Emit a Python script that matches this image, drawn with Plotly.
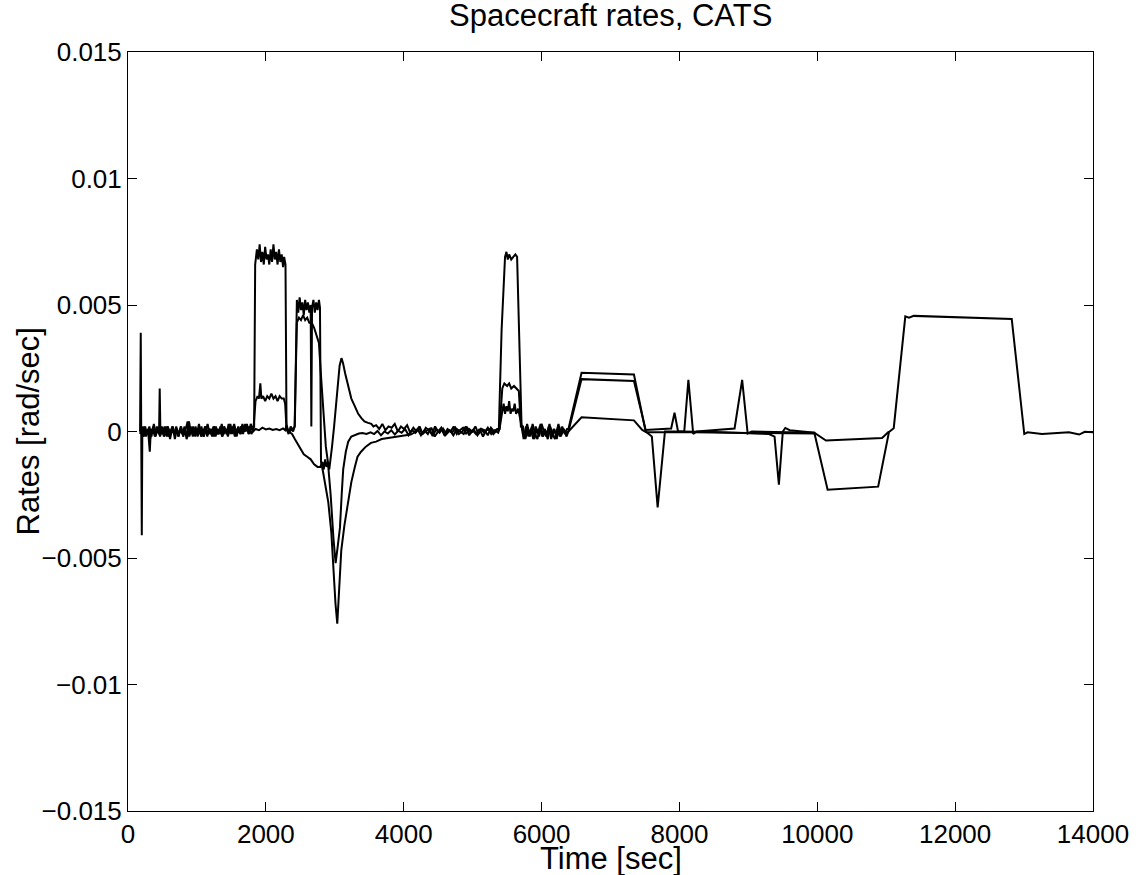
import plotly.graph_objects as go

# ---- data: (time [sec], rate [1e-4 rad/sec]) ----
roll_pts = [
    (175, 0), (185, 39), (192, 0), (200, -41), (208, 1), (230, -2), (250, 2), (270, -1), (300, 1), (320, -3),
    (340, 0), (370, 2), (400, -2), (430, 1), (460, -1), (490, 2), (520, -2), (550, 0), (580, 2), (610, -3),
    (640, 1), (670, -1), (700, 2), (730, -2), (760, 1), (790, -1), (820, 2), (850, -3), (880, 0), (910, 2),
    (940, -2), (970, 1), (1000, -1), (1030, 3), (1060, -2), (1090, 0), (1120, 2), (1150, -2), (1180, 1), (1210, -1),
    (1240, 2), (1270, -2), (1300, 1), (1330, -1), (1360, 3), (1390, -1), (1420, 1), (1450, -2), (1480, 2), (1510, 0),
    (1540, 3), (1570, -1), (1600, 2), (1630, -1), (1660, 3), (1690, 0), (1720, 2), (1750, -1), (1780, 3), (1810, 1),
    (1830, 2), (1845, 66), (1870, 72), (1890, 68), (1910, 74), (1930, 67), (1950, 71), (1970, 66), (1990, 73), (2010, 68),
    (2030, 70), (2050, 66), (2070, 72), (2090, 67), (2110, 74), (2130, 68), (2150, 71), (2170, 66), (2190, 72), (2210, 67),
    (2230, 70), (2250, 65), (2265, 69), (2285, 66), (2300, 1), (2330, -1), (2360, 2), (2395, 0),
    (2420, 2), (2450, 52), (2470, 47), (2490, 53), (2510, 48), (2530, 51), (2550, 46), (2570, 52), (2590, 48), (2610, 51),
    (2630, 47), (2650, 50), (2660, 2), (2670, 49), (2690, 52), (2710, 47), (2730, 51), (2750, 48), (2770, 52), (2785, 49),
    (2800, -12), (2830, -16), (2906, -28), (2950, -40), (2978, -55), (3010, -68), (3036, -76), (3060, -62), (3094, -47), (3140, -37),
    (3195, -28), (3240, -20), (3291, -14), (3330, -10), (3381, -8), (3450, -6), (3525, -4.5), (3600, -4), (3680, -3), (3770, -2.6),
    (3850, -2.4), (3930, -1.8), (4010, -1.6), (4101, -1.2),
    (4150, -0.5), (4200, 1), (4250, -1.5), (4300, 0.5), (4350, -1), (4400, 1.5), (4450, -2), (4500, 0), (4550, 1), (4600, -1.5),
    (4650, 0.5), (4700, -0.5), (4750, 1.5), (4800, -1), (4850, 0), (4900, 2), (4950, -1.5), (5000, 0.5), (5050, -1), (5100, 1),
    (5150, -2), (5200, 0.5), (5250, 1), (5300, -1), (5350, 0.5),
    (5380, 1), (5420, 40), (5470, 69), (5490, 71), (5510, 68), (5530, 70), (5560, 68), (5590, 69), (5620, 70), (5645, 69),
    (5710, 2), (5740, -3), (5775, 2), (5810, -2), (5845, 1), (5880, -3), (5915, 2), (5950, -1), (5985, 3), (6020, -2),
    (6055, 0), (6090, -3), (6125, 2), (6160, -1), (6195, -3), (6230, 1), (6265, -2), (6300, 2), (6335, -1), (6370, 1),
    (6390, 1), (6580, 23.2), (7340, 22.5), (7510, 0), (7600, -2), (7684, -30), (7790, 0), (8000, 0), (8500, -0.2), (9300, -1),
    (9380, -2), (9443, -21), (9500, 0), (9536, 1.4), (9600, 0.5), (9957, -0.5), (10150, -23), (10883, -21.8), (11040, -0.2), (11109, 1.3),
    (11277, 45.5), (11330, 45), (11400, 45.7), (12821, 44.5), (13003, -1), (13050, -0.3), (13260, -1), (13650, -0.3), (13800, -1.2), (13880, -0.1),
    (14000, -0.3),
]

pitch_pts = [
    (175, 0), (190, 1), (210, -1), (230, 2), (260, -2), (290, 1), (316, -8), (330, 0), (360, 1), (390, -2),
    (420, 2), (450, -1), (460, 17), (470, 0), (500, -1), (530, 2), (560, -2), (590, 1), (620, -1), (650, 2),
    (680, -3), (710, 1), (740, -1), (770, 2), (800, -2), (830, 0), (865, 4), (890, -2), (920, 1), (950, -1),
    (980, 2), (1010, -2), (1040, 1), (1070, 0), (1100, -2), (1130, 2), (1160, -1), (1190, 1), (1220, -2), (1250, 2),
    (1280, 0), (1310, -1), (1340, 2), (1370, -2), (1400, 1), (1430, -1), (1460, 3), (1490, -1), (1520, 2), (1550, -2),
    (1580, 1), (1610, 0), (1640, 2), (1670, -1), (1700, 3), (1730, 0), (1760, 2), (1790, -1), (1820, 1),
    (1850, 12), (1880, 14), (1900, 13), (1920, 19), (1935, 13), (1960, 14), (1990, 12), (2020, 14), (2050, 13), (2080, 15),
    (2110, 13), (2140, 14), (2170, 12), (2200, 14), (2230, 13), (2260, 13), (2280, 11), (2300, 1), (2340, 0), (2390, 1),
    (2417, 2), (2450, 43), (2480, 45), (2510, 44), (2540, 46), (2570, 44), (2600, 45), (2630, 43), (2666, 43), (2700, 41),
    (2740, 38), (2770, 35), (2800, 22), (2830, 8), (2870, -6), (2900, -12), (2940, -25), (2980, -42), (3012, -52), (3040, -46),
    (3075, -38), (3100, -25), (3122, -15), (3160, -8), (3195, -4), (3240, -2), (3291, -1.4), (3350, -0.8), (3400, -0.6), (3460, -1),
    (3520, -0.3), (3570, -1), (3620, 0.2), (3670, -1.5), (3720, 0), (3770, -0.8), (3820, 0.5), (3870, -1.2), (3920, 0.3), (3970, -0.5),
    (4020, 1), (4070, -1.5), (4120, 0.5), (4170, -0.5), (4220, 1.5), (4270, -1), (4320, 0), (4370, 1), (4420, -1.8), (4470, 0.8),
    (4520, -0.5), (4570, 1.2), (4620, -1), (4670, 0.5), (4720, -1.5), (4770, 1), (4820, 0), (4870, -1), (4920, 1.5), (4970, -0.5),
    (5020, 0.5), (5070, -1.5), (5120, 1), (5170, -0.5), (5220, 1.5), (5270, -1), (5320, 0.5), (5370, -0.5),
    (5390, 1), (5430, 17), (5460, 19), (5500, 18), (5530, 19), (5560, 17), (5600, 18), (5640, 17), (5670, 16), (5700, 2),
    (5730, 2), (5765, -3), (5800, 1), (5835, -2), (5870, 3), (5905, -1), (5940, -3), (5975, 2), (6010, -2), (6045, 1),
    (6080, -1), (6115, 3), (6150, -2), (6185, 1), (6220, -3), (6255, 2), (6290, -1), (6325, 1), (6360, -2), (6390, 0),
    (6580, 20.7), (7340, 20), (7510, 0.6), (7880, 1.2), (7929, 7.4), (7980, 0), (8070, 0), (8130, 20.4), (8200, -1), (8250, 0),
    (8800, 1.2), (8910, 20.4), (8990, -0.8), (9050, 0), (9957, -0.5), (10126, -3.6), (10940, -2.6), (11040, 0),
]

yaw_pts = [
    (175, -1), (200, 2), (220, -2), (250, 1), (280, -1), (310, 2), (340, -2), (375, 3), (405, -1), (435, 1),
    (465, -2), (495, 1), (525, -1), (555, 2), (585, -2), (615, 0), (645, 2), (675, -1), (705, 1), (735, -2),
    (765, 2), (795, -1), (825, 1), (855, -2), (885, 4), (915, -1), (945, 2), (975, -2), (1005, 1), (1035, -1),
    (1065, 2), (1095, -2), (1125, 0), (1155, 3), (1185, -1), (1215, 1), (1245, -2), (1275, 2), (1305, -1), (1335, 1),
    (1365, -2), (1395, 2), (1425, 0), (1455, -1), (1485, 3), (1515, -1), (1545, 2), (1575, -2), (1605, 1), (1635, -1),
    (1665, 2), (1695, 0), (1725, 3), (1755, -1), (1785, 2), (1815, 0),
    (1850, 1), (1900, 0.5), (1950, 1.5), (2000, 0.8), (2050, 1.2), (2100, 0.6), (2150, 1), (2200, 0.5), (2250, 1.2), (2280, 0.5),
    (2300, 2.5), (2330, 0), (2380, -1), (2420, -3), (2460, -5), (2500, -7), (2550, -9), (2600, -10), (2650, -11), (2700, -13),
    (2750, -14), (2790, -14), (2820, -12), (2840, -15), (2860, -11), (2880, -14), (2900, -12), (2920, -15), (2940, -11), (2960, -6),
    (2990, 2), (3040, 18), (3070, 26), (3097, 29), (3120, 27), (3150, 23), (3194, 18), (3240, 13), (3290, 10), (3340, 7),
    (3386, 5.3), (3430, 4), (3482, 3.4), (3530, 3), (3560, 2),
    (3600, 2.5), (3645, 1), (3690, 3), (3735, 0.5), (3780, 2), (3825, 1.5), (3870, 3), (3915, 0), (3960, 2), (4005, 1),
    (4050, 2.5), (4095, -0.5), (4140, 1.5), (4185, 0), (4230, 2), (4275, -1), (4320, 1.5), (4365, 0.5), (4410, -1), (4455, 2),
    (4500, 0), (4545, 1.5), (4590, -1.5), (4635, 1), (4680, 0), (4725, 2), (4770, -1), (4815, 0.5), (4860, 1.5), (4905, -1),
    (4950, 1), (4995, 0), (5040, 2), (5085, -1), (5130, 1), (5175, 0.5), (5220, -1.5), (5265, 1.5), (5310, 0), (5355, 1),
    (5390, 1), (5430, 8), (5450, 11), (5470, 7), (5490, 10), (5510, 8), (5530, 12), (5550, 7), (5570, 9), (5590, 8),
    (5610, 11), (5630, 7), (5660, 9), (5690, 5), (5720, 1),
    (5755, -2), (5790, 3), (5825, -1), (5860, 2), (5895, -3), (5930, 1), (5965, -2), (6000, 3), (6035, 0), (6070, -2),
    (6105, 2), (6140, -3), (6175, 1), (6210, -1), (6245, 3), (6280, -2), (6315, 1), (6350, -1), (6390, 0),
    (6580, 5.6), (7340, 4.4), (7460, 0.6), (7520, -0.3), (8200, -0.3), (9000, -0.6), (9957, -0.8),
]

x_ticks = [0, 2000, 4000, 6000, 8000, 10000, 12000, 14000]
y_ticks = [-0.015, -0.01, -0.005, 0, 0.005, 0.01, 0.015]
y_tick_labels = ["\u22120.015", "\u22120.01", "\u22120.005", "0", "0.005", "0.01", "0.015"]

SCALE = 1e-4
FONT = "Liberation Sans, Arial, Helvetica, sans-serif"

fig = go.Figure()
for name, pts in [("roll", roll_pts), ("pitch", pitch_pts), ("yaw", yaw_pts)]:
    fig.add_trace(go.Scatter(
        x=[p[0] for p in pts],
        y=[p[1] * SCALE for p in pts],
        mode="lines",
        line=dict(color="black", width=2),
        name=name,
        showlegend=False,
        hoverinfo="skip",
    ))

axis_common = dict(
    showline=True, linecolor="black", linewidth=1, mirror="ticks",
    ticks="inside", ticklen=9, tickcolor="black", tickwidth=1,
    showgrid=False, zeroline=False,
    tickfont=dict(family=FONT, size=26, color="black"),
)

fig.update_layout(
    width=1141, height=875,
    margin=dict(l=128, r=42, t=52, b=64),
    paper_bgcolor="white", plot_bgcolor="white",
    xaxis=dict(range=[0, 14000], tickmode="array", tickvals=x_ticks,
               ticktext=[str(v) for v in x_ticks], **axis_common),
    yaxis=dict(range=[-0.015, 0.015], tickmode="array", tickvals=y_ticks,
               ticktext=y_tick_labels, **axis_common),
    annotations=[
        dict(text="Spacecraft rates, CATS", xref="paper", yref="paper", x=0.5, y=1,
             yshift=37, xanchor="center", yanchor="middle", showarrow=False,
             font=dict(family=FONT, size=31, color="black")),
        dict(text="Time [sec]", xref="paper", yref="paper", x=0.5, y=0,
             yshift=-47, xanchor="center", yanchor="middle", showarrow=False,
             font=dict(family=FONT, size=31, color="black")),
        dict(text="Rates [rad/sec]", xref="paper", yref="paper", x=0, y=0.5,
             xshift=-100, xanchor="center", yanchor="middle", showarrow=False, textangle=-90,
             font=dict(family=FONT, size=31, color="black")),
    ],
)

# remove the browser's default 8px body margin so the figure sits at the page origin
fig.write_html("out.html", config={"displayModeBar": False},
               post_script="document.body.style.margin='0';")
